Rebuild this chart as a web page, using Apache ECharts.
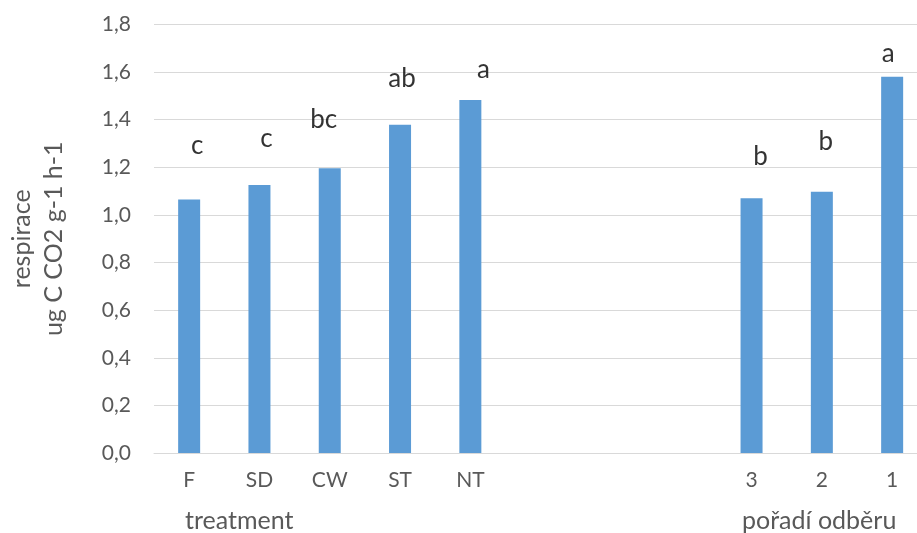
<!DOCTYPE html>
<html>
<head>
<meta charset="utf-8">
<script src="https://cdn.jsdelivr.net/npm/echarts@6/dist/echarts.min.js"></script>
<style>
html,body{margin:0;padding:0;background:#fff;}
#chart{width:917px;height:533px;}
</style>
</head>
<body>
<div id="chart"></div>
<script>
// ---- data ----
const categories = ['F', 'SD', 'CW', 'ST', 'NT', ' ', '  ', '   ', '3', '2', '1'];
const respiration = [1.065, 1.126, 1.196, 1.379, 1.483, null, null, null, 1.070, 1.097, 1.580];
const letters = ['c', 'c', 'bc', 'ab', 'a', '', '', '', 'b', 'b', 'a'];
const letterHeights = [1.291, 1.319, 1.399, 1.574, 1.612, null, null, null, 1.245, 1.306, 1.678];
const yTicks = [0, 0.2, 0.4, 0.6, 0.8, 1.0, 1.2, 1.4, 1.6, 1.8];
const groupNames = ['treatment', 'pořadí odběru'];
const yTitle = ['respirace', 'ug C CO2 g-1 h-1'];

// ---- style ----
const FONT = 'Lato';
const letterNudge = [8, 7, -6, 2, 13, 0, 0, 0, 9, 4, -4];

const chart = echarts.init(document.getElementById('chart'), null, {renderer: 'canvas'});

const letterData = letterHeights.map((v, i) => ({
  value: v,
  label: {offset: [letterNudge[i], 0]}
}));

const option = {
  animation: false,
  backgroundColor: '#ffffff',
  grid: {left: 154, top: 24.5, bottom: 80, width: 773.3, outerBoundsMode: 'none', containLabel: false},
  xAxis: {
    type: 'category',
    data: categories,
    axisLine: {show: true, lineStyle: {color: '#D9D9D9', width: 1}},
    axisTick: {show: false},
    axisLabel: {color: '#595959', fontFamily: FONT, fontSize: 21, margin: 17, interval: 0},
    splitLine: {show: false}
  },
  yAxis: {
    type: 'value',
    min: yTicks[0],
    max: yTicks[yTicks.length - 1],
    interval: 0.2,
    axisLine: {show: false},
    axisTick: {show: false},
    axisLabel: {
      color: '#595959', fontFamily: FONT, fontSize: 21, margin: 23,
      formatter: v => v.toFixed(1).replace('.', ',')
    },
    splitLine: {lineStyle: {color: '#D9D9D9', width: 1}},
    name: yTitle.join('\n'),
    nameLocation: 'middle',
    nameRotate: 90,
    nameGap: 84,
    nameTextStyle: {color: '#595959', fontFamily: FONT, fontSize: 25, lineHeight: 32}
  },
  series: [
    {
      type: 'bar',
      data: respiration,
      barWidth: 22,
      itemStyle: {color: '#5B9BD5'},
      silent: true
    },
    {
      type: 'scatter',
      data: letterData,
      symbolSize: 0,
      silent: true,
      label: {
        show: true,
        position: 'inside',
        formatter: p => letters[p.dataIndex],
        color: '#000000',
        fontFamily: FONT,
        fontSize: 26
      }
    }
  ],
  graphic: [
    {type: 'text', x: 185, y: 521, style: {text: groupNames[0], fill: '#595959', font: '25px ' + FONT, textVerticalAlign: 'middle', textAlign: 'left'}},
    {type: 'text', x: 742, y: 521, style: {text: groupNames[1], fill: '#595959', font: '25px ' + FONT, textVerticalAlign: 'middle', textAlign: 'left'}}
  ]
};
chart.setOption(option);
</script>
</body>
</html>
